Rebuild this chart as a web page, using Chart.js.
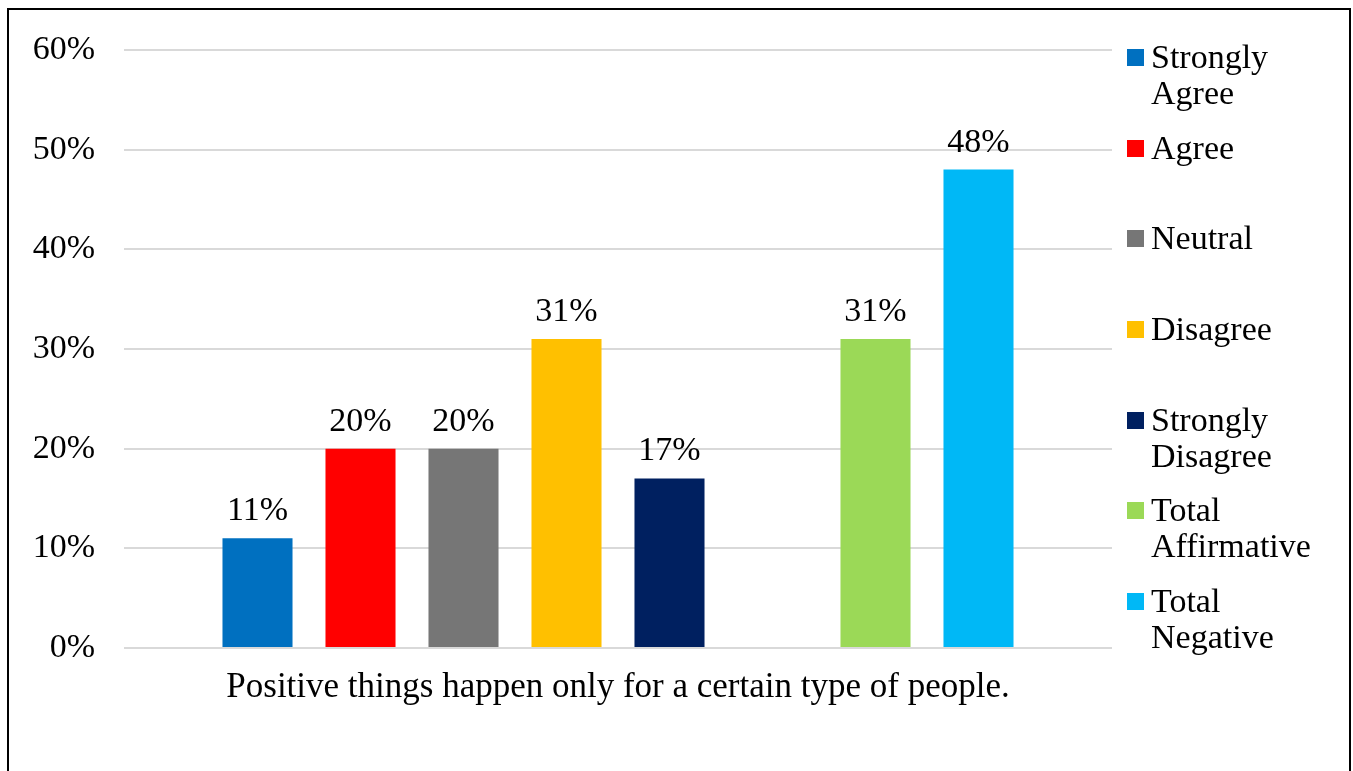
<!DOCTYPE html>
<html>
<head>
<meta charset="utf-8">
<script src="https://cdn.jsdelivr.net/npm/chart.js@4"></script>
<style>
    html, body { margin: 0; padding: 0; background: #fff; overflow: hidden; }
    #wrap { position: relative; width: 1353px; height: 771px; }
    #frame {
        position: absolute; left: 7px; top: 8px; width: 1344px; height: 800px;
        border: 2px solid #000; box-sizing: border-box;
    }
    #chart { position: absolute; left: 0; top: 0; }
    #legend {
        position: absolute; left: 1127px; top: 39px;
        font-family: "Liberation Serif", serif; font-size: 34px; line-height: 36px; color: #000;
    }
    .item { position: relative; height: 90.7px; padding-left: 24px; }
    .swatch { position: absolute; left: 0; top: 10px; width: 17px; height: 17px; }
</style>
</head>
<body>
<div id="wrap">
    <div id="frame"></div>
    <canvas id="chart" width="1353" height="771"></canvas>
    <div id="legend"></div>
</div>
<script>
const categories = [''];
const seriesNames = ['Strongly Agree', 'Agree', 'Neutral', 'Disagree', 'Strongly Disagree', '', 'Total Affirmative', 'Total Negative'];
const legendLines = [['Strongly', 'Agree'], ['Agree'], ['Neutral'], ['Disagree'], ['Strongly', 'Disagree'], null, ['Total', 'Affirmative'], ['Total', 'Negative']];
const seriesValues = [11, 20, 20, 31, 17, null, 31, 48];
const seriesColors = ['#0070c0', '#ff0000', '#767676', '#ffc000', '#002060', '#ffffff', '#9bd957', '#00b8f6'];
const yTicks = [0, 10, 20, 30, 40, 50, 60];

const FONT = 'Liberation Serif';

// value labels above each bar
const valueLabels = {
    id: 'valueLabels',
    afterDatasetsDraw(chart) {
        const ctx = chart.ctx;
        ctx.save();
        ctx.font = '34px "' + FONT + '"';
        ctx.fillStyle = '#000';
        ctx.textAlign = 'center';
        ctx.textBaseline = 'middle';
        chart.data.datasets.forEach((ds, i) => {
            const meta = chart.getDatasetMeta(i);
            meta.data.forEach((bar, j) => {
                const v = ds.data[j];
                if (v === null || v === undefined) return;
                ctx.fillText(v + '%', bar.x, bar.y - 27);
            });
        });
        ctx.restore();
    }
};

const datasets = seriesNames.map((name, i) => ({
    label: name,
    data: [seriesValues[i]],
    backgroundColor: seriesColors[i],
    borderWidth: 0,
    barPercentage: 0.68,
    categoryPercentage: 0.834
}));

new Chart(document.getElementById('chart'), {
    type: 'bar',
    data: { labels: categories, datasets: datasets },
    plugins: [valueLabels],
    options: {
        responsive: false,
        animation: false,
        layout: { padding: { top: 50, right: 241, bottom: 0, left: 0 } },
        plugins: {
            legend: { display: false },
            tooltip: { enabled: false }
        },
        scales: {
            y: {
                min: 0,
                max: 60,
                afterFit: s => { s.width = 124; },
                afterBuildTicks: s => { s.ticks = yTicks.map(v => ({ value: v })); },
                border: { display: false },
                grid: { color: '#d9d9d9', lineWidth: 2, drawTicks: false },
                ticks: {
                    padding: 29,
                    color: '#000',
                    font: { family: FONT, size: 34 },
                    callback: v => v + '%'
                }
            },
            x: {
                afterFit: s => { s.height = 123; },
                border: { display: false },
                grid: { display: false },
                ticks: { display: false },
                title: {
                    display: true,
                    text: 'Positive things happen only for a certain type of people.',
                    color: '#000',
                    font: { family: FONT, size: 35 },
                    padding: { top: 0, bottom: 62 }
                }
            }
        }
    }
});

// legend on the right, skipping the blank spacer series
const legend = document.getElementById('legend');
seriesNames.forEach((name, i) => {
    if (!legendLines[i]) return;
    const item = document.createElement('div');
    item.className = 'item';
    item.innerHTML = `<span class="swatch" style="background:${seriesColors[i]}"></span>${legendLines[i].join('<br>')}`;
    legend.appendChild(item);
});
</script>
</body>
</html>
